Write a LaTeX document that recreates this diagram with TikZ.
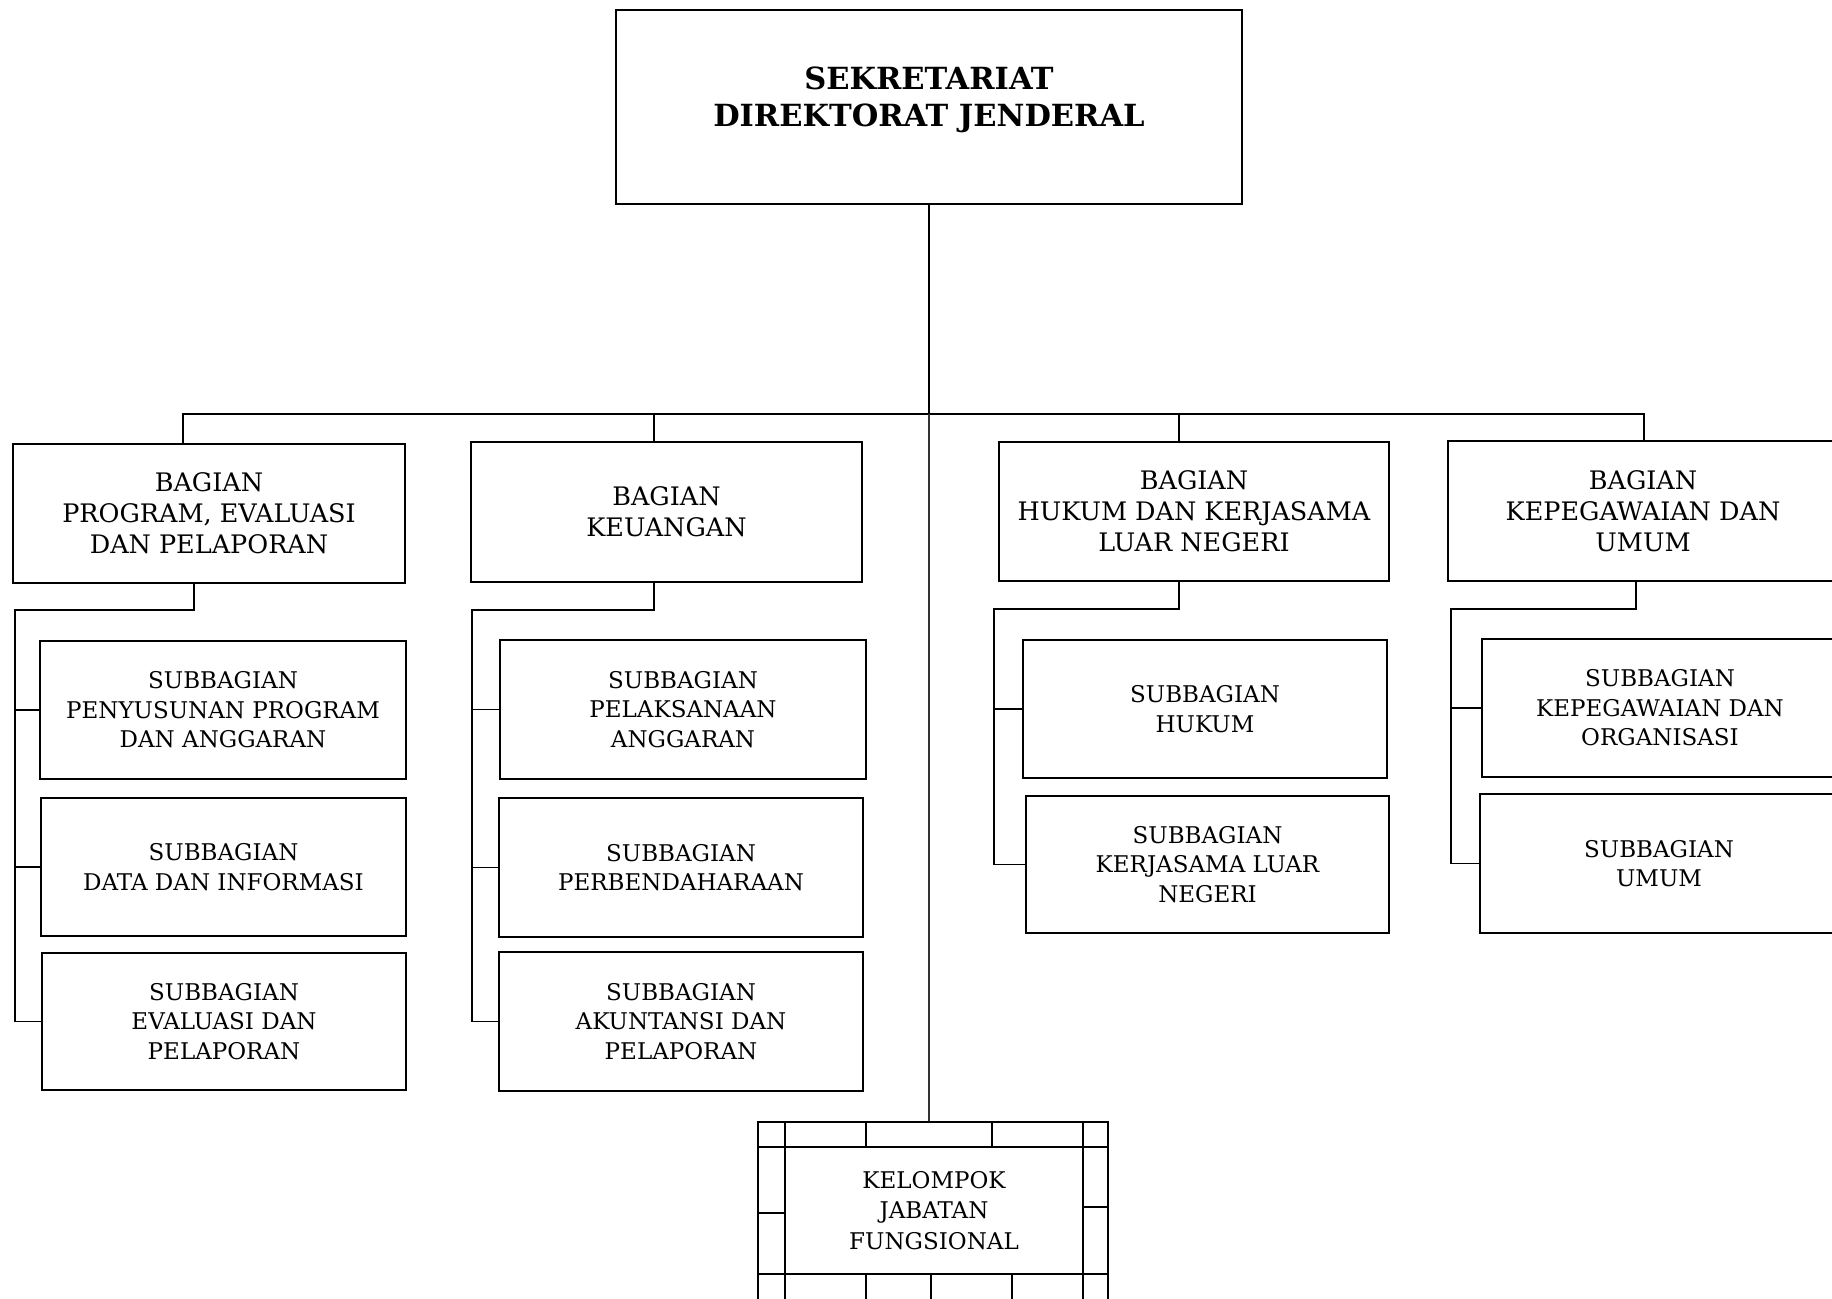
\documentclass[tikz,border=0pt]{standalone}
\usepackage{fontspec}
\setmainfont{DejaVu Serif}
\begin{document}
\begin{tikzpicture}[x=1pt,y=-1pt,
  unit/.style={draw=black, line width=1.8pt, inner sep=0pt, align=center},
  headtext/.style={inner sep=0pt, align=center, font=\bfseries\fontsize{30.5}{37}\selectfont},
  bagian/.style={unit, minimum width=390, minimum height=139, font=\fontsize{25.5}{31}\selectfont},
  subbag/.style={unit, minimum height=138, font=\fontsize{23}{29.5}\selectfont},
  conn/.style={line width=1.8pt, line cap=rect},
  thinconn/.style={line width=1.1pt, draw=black!80},
  frame/.style={line width=1.8pt}]
\useasboundingbox (0,0) rectangle (1832,1299);
\clip (0,0) rectangle (1832,1299);

% top unit
\node[unit, minimum width=626, minimum height=194] (sek) at (929,107) {};
\node[headtext] (sektxt) at ([yshift=7]sek.center) {SEKRETARIAT\\DIREKTORAT JENDERAL};

% divisions
\node[bagian, minimum width=392] (b1) at (209,513.5) {BAGIAN\\PROGRAM, EVALUASI\\DAN PELAPORAN};
\node[bagian, minimum width=391, minimum height=140] (b2) at (666.5,512) {BAGIAN\\KEUANGAN};
\node[bagian] (b3) at (1194,511.5) {BAGIAN\\HUKUM DAN KERJASAMA\\LUAR NEGERI};
\node[bagian, minimum height=140] (b4) at (1643,511) {BAGIAN\\KEPEGAWAIAN DAN\\UMUM};

% sub-divisions
\node[subbag, minimum width=366] (c11) at (223,710) {SUBBAGIAN\\PENYUSUNAN PROGRAM\\DAN ANGGARAN};
\node[subbag, minimum width=365] (c12) at (223.5,867) {SUBBAGIAN\\DATA DAN INFORMASI};
\node[subbag, minimum width=364, minimum height=137] (c13) at (224,1021.5) {SUBBAGIAN\\EVALUASI DAN\\PELAPORAN};

\node[subbag, minimum width=366, minimum height=139] (c21) at (683,709.5) {SUBBAGIAN\\PELAKSANAAN\\ANGGARAN};
\node[subbag, minimum width=364, minimum height=139] (c22) at (681,867.5) {SUBBAGIAN\\PERBENDAHARAAN};
\node[subbag, minimum width=364, minimum height=139] (c23) at (681,1021.5) {SUBBAGIAN\\AKUNTANSI DAN\\PELAPORAN};

\node[subbag, minimum width=364] (c31) at (1205,709) {SUBBAGIAN\\HUKUM};
\node[subbag, minimum width=363, minimum height=137] (c32) at (1207.5,864.5) {SUBBAGIAN\\KERJASAMA LUAR\\NEGERI};

\node[subbag, minimum width=356] (c41) at (1660,708) {SUBBAGIAN\\KEPEGAWAIAN DAN\\ORGANISASI};
\node[subbag, minimum width=358, minimum height=139] (c42) at (1659,863.5) {SUBBAGIAN\\UMUM};

% functional group
\node[unit, minimum width=298, minimum height=127, font=\fontsize{23}{30.5}\selectfont] (kjf) at (934,1210.5) {KELOMPOK\\JABATAN\\FUNGSIONAL};

% bus and drops
\coordinate (busL) at (183,414);
\coordinate (busR) at (1644,414);
\coordinate (j2) at (654,414);
\coordinate (j3) at (1179,414);
\coordinate (kt) at (929,1122);
\draw[conn] (sek.south) -- (sek.south |- busL);
\draw[conn] (busL) -- (busR);
\draw[conn] (busL) -- (busL |- b1.north);
\draw[conn] (j2) -- (j2 |- b2.north);
\draw[conn] (j3) -- (j3 |- b3.north);
\draw[conn] (busR) -- (busR |- b4.north);
\draw[thinconn] (sek.south |- busL) -- (kt);

% branch 1
\coordinate (e1) at (194,610);
\coordinate (s1) at (15,610);
\draw[conn] (e1 |- b1.south) -- (e1) -- (s1) -- (s1 |- c13.west) -- (c13.west);
\draw[conn] (s1 |- c11.west) -- (c11.west);
\draw[conn] (s1 |- c12.west) -- (c12.west);

% branch 2
\coordinate (e2) at (654,610);
\coordinate (s2) at (472,610);
\draw[conn] (e2 |- b2.south) -- (e2) -- (s2) -- (s2 |- c23.west) -- (c23.west);
\draw[conn] (s2 |- c21.west) -- (c21.west);
\draw[conn] (s2 |- c22.west) -- (c22.west);

% branch 3
\coordinate (e3) at (1179,609);
\coordinate (s3) at (994,609);
\draw[conn] (e3 |- b3.south) -- (e3) -- (s3) -- (s3 |- c32.west) -- (c32.west);
\draw[conn] (s3 |- c31.west) -- (c31.west);

% branch 4
\coordinate (e4) at (1636,609);
\coordinate (s4) at (1451,609);
\draw[conn] (e4 |- b4.south) -- (e4) -- (s4) -- (s4 |- c42.west) -- (c42.west);
\draw[conn] (s4 |- c41.west) -- (c41.west);

% frame around the functional group
\draw[frame] (758,1330) -- (758,1122) -- (1108,1122) -- (1108,1330);
\draw[frame] (758,1147) -- (1108,1147);
\draw[frame] (758,1274) -- (1108,1274);
\draw[frame] (785,1122) -- (785,1330);
\draw[frame] (1083,1122) -- (1083,1330);
\draw[frame] (866,1122) -- (866,1147);
\draw[frame] (992,1122) -- (992,1147);
\draw[frame] (866,1274) -- (866,1330);
\draw[frame] (931,1274) -- (931,1330);
\draw[frame] (1012,1274) -- (1012,1330);
\draw[frame] (758,1213) -- (785,1213);
\draw[frame] (1083,1207) -- (1108,1207);
\end{tikzpicture}
\end{document}
